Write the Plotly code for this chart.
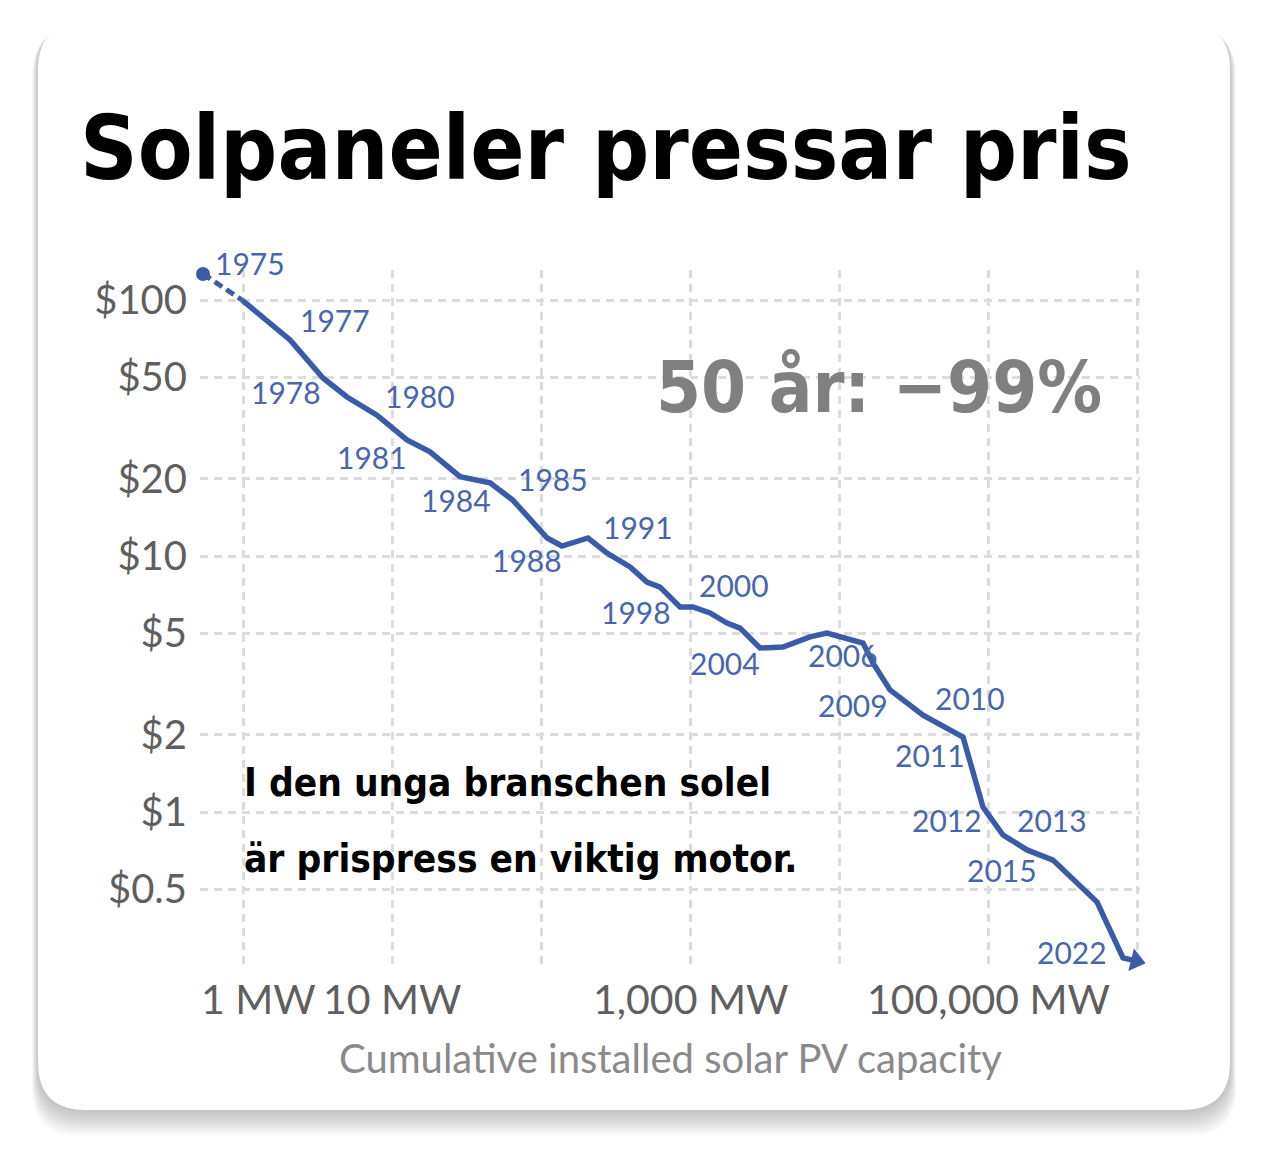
import math
import plotly.graph_objects as go

# cumulative installed capacity (MW) and module price ($/W)
cap_mw = [0.539, 0.985, 2.07, 3.44, 4.99, 7.93, 12.6, 18.0, 28.6, 45.5,
          64.9, 110, 138, 207, 277, 396, 514, 629, 857, 1047,
          1362, 1771, 2167, 2950, 4209, 6387, 8305, 14490, 16900, 21990,
          36640, 67970, 92530, 126100, 182700, 273000, 539500, 805400, 984000]
price = [126.4, 100, 69.8, 49.6, 41.8, 35.5, 28.4, 25.5, 20.4, 19.3,
         16.5, 11.76, 10.94, 11.76, 10.27, 9.06, 7.91, 7.56, 6.32, 6.32,
         5.99, 5.47, 5.23, 4.37, 4.41, 4.83, 5.00, 4.57, 3.82, 3.00,
         2.39, 1.963, 1.046, 0.813, 0.711, 0.649, 0.445, 0.269, 0.262]
year_label = ["1975", "", "1977", "1978", "", "1980", "1981", "", "", "1984",
              "1985", "", "1988", "", "1991", "", "", "", "1998", "2000",
              "", "", "", "2004", "", "", "", "2006", "", "2009",
              "2010", "2011", "2012", "2013", "2015", "", "", "", "2022"]

y_ticks = [0.5, 1, 2, 5, 10, 20, 50, 100]
y_tick_text = ["$0.5", "$1", "$2", "$5", "$10", "$20", "$50", "$100"]
x_ticks = [1, 10, 1000, 100000]
x_tick_text = ["1 MW", "10 MW", "1,000 MW", "100,000 MW"]

title = "Solpaneler pressar pris"
headline = "50 år: −99%"
note = ["I den unga branschen solel", "är prispress en viktig motor."]
x_title = "Cumulative installed solar PV capacity"

# page is drawn 8px in from the window corner
OFF = 8
W, H = 1264 - OFF, 1158 - OFF
L, R, T, B = 200, 1140, 270, 965   # plot area, window pixels
BLUE = "#3a5ba8"
LABEL_BLUE = "#4866ad"
COND = "DejaVu Sans Condensed, DejaVu Sans, sans-serif"


def px_x(px):
    return (px - L) / (R - L)


def px_y(py):
    return (B - py) / (B - T)


def rrect(x0, y0, x1, y1, r):
    X, Y = px_x, px_y
    return (f"M {X(x0 + r)},{Y(y0)} L {X(x1 - r)},{Y(y0)} "
            f"Q {X(x1)},{Y(y0)} {X(x1)},{Y(y0 + r)} L {X(x1)},{Y(y1 - r)} "
            f"Q {X(x1)},{Y(y1)} {X(x1 - r)},{Y(y1)} L {X(x0 + r)},{Y(y1)} "
            f"Q {X(x0)},{Y(y1)} {X(x0)},{Y(y1 - r)} L {X(x0)},{Y(y0 + r)} "
            f"Q {X(x0)},{Y(y0)} {X(x0 + r)},{Y(y0)} Z")


def base_y(baseline, size, descent=0.236):
    # paper y of an annotation bottom so that the text sits on this baseline
    return px_y(baseline + descent * size + 1)


# label offsets in pixels (right, up) from their point
label_off = {
    "1975": (47, 11), "1977": (45, 20), "1978": (-37, -14), "1980": (43, 19),
    "1981": (-35, -17), "1984": (-34, -17), "1985": (40, 21), "1988": (-35, -14),
    "1991": (31, 26), "1998": (-44, -5), "2000": (41, 22), "2004": (-35, -15),
    "2006": (-20, -12), "2009": (-37, -15), "2010": (47, 17), "2011": (-33, -18),
    "2012": (-36, -13), "2013": (49, 15), "2015": (-25, -20), "2022": (-64, 9),
}

fig = go.Figure()

# first stretch dashed, with start dot
fig.add_trace(go.Scatter(x=cap_mw[:2], y=price[:2], mode="lines",
                         line=dict(color=BLUE, width=5, dash="9px,5px"),
                         hoverinfo="skip", showlegend=False))
fig.add_trace(go.Scatter(x=cap_mw[:1], y=price[:1], mode="markers",
                         marker=dict(color=BLUE, size=14),
                         cliponaxis=False, showlegend=False))
fig.add_trace(go.Scatter(x=cap_mw[1:], y=price[1:], mode="lines",
                         line=dict(color=BLUE, width=5.5),
                         showlegend=False))
# arrow head at the last point
fig.add_trace(go.Scatter(x=cap_mw[-1:], y=price[-1:], mode="markers",
                         marker=dict(color=BLUE, size=20, symbol="triangle-right",
                                     angle=14, line=dict(width=0)),
                         cliponaxis=False, showlegend=False))

shapes = []
for i in range(1, 11):
    shapes.append(dict(type="path", xref="paper", yref="paper", layer="below",
                       path=rrect(38 - i * 0.6, 22 + i * 0.6, 1230 + i * 0.6, 1110 + i * 2.6, 48),
                       fillcolor="rgba(0,0,0,0.022)", line=dict(width=0)))
shapes.append(dict(type="path", xref="paper", yref="paper", layer="below",
                   path=rrect(38, 22, 1230, 1110, 48),
                   fillcolor="white", line=dict(width=0)))

ann = []
for cx, py, lab in zip(cap_mw, price, year_label):
    if not lab:
        continue
    dx, dy = label_off[lab]
    ann.append(dict(x=math.log10(cx), y=math.log10(py), xref="x", yref="y",
                    text=lab, showarrow=False, xanchor="center", yanchor="middle",
                    xshift=dx, yshift=dy,
                    font=dict(family="Lato", size=30, color=LABEL_BLUE)))

for v, t in zip(x_ticks, x_tick_text):
    ann.append(dict(x=math.log10(v), y=base_y(1016, 41, 0.2), xref="x", yref="paper",
                    text=t, showarrow=False, xanchor="center", yanchor="bottom",
                    xshift=15 if v == 1 else 0,
                    font=dict(family="Lato", size=41, color="#5f5f5f")))

ann.append(dict(x=px_x(670), y=base_y(1075, 40, 0.2), xref="paper", yref="paper",
                text=x_title, showarrow=False, xanchor="center", yanchor="bottom",
                font=dict(family="Lato", size=40, color="#8a8a8a")))

ann.append(dict(x=px_x(78), y=base_y(180, 89), xref="paper", yref="paper",
                text=f"<b>{title}</b>", showarrow=False, xanchor="left", yanchor="bottom",
                font=dict(family=COND, size=89, color="black")))
ann.append(dict(x=px_x(1104), y=base_y(413, 72), xref="paper", yref="paper",
                text=f"<b>{headline}</b>", showarrow=False, xanchor="right", yanchor="bottom",
                font=dict(family=COND, size=72, color="#808080")))
for line, bl in zip(note, [797, 873]):
    ann.append(dict(x=px_x(242), y=base_y(bl, 38.5), xref="paper", yref="paper",
                    text=f"<b>{line}</b>", showarrow=False, xanchor="left", yanchor="bottom",
                    font=dict(family=COND, size=38.5, color="black")))

fig.update_layout(
    width=W, height=H,
    margin=dict(l=L - OFF, r=W - (R - OFF), t=T - OFF, b=H - (B - OFF)),
    paper_bgcolor="white", plot_bgcolor="rgba(0,0,0,0)",
    shapes=shapes, annotations=ann,
    xaxis=dict(type="log", range=[(L - 243) / 149, (R - 243) / 149],
               tickvals=[1, 10, 100, 1000, 1e4, 1e5, 1e6], showticklabels=False,
               showgrid=True, gridcolor="#dcdcdc", gridwidth=3, griddash="8px,6px",
               zeroline=False, showline=False, ticks=""),
    yaxis=dict(type="log", range=[2 - (B - 300) / 256, 2 + (300 - T) / 256],
               tickvals=y_ticks, ticktext=y_tick_text,
               tickfont=dict(family="Lato", size=40, color="#5f5f5f"),
               ticklabelstandoff=12,
               showgrid=True, gridcolor="#dcdcdc", gridwidth=3, griddash="8px,6px",
               zeroline=False, showline=False, ticks=""),
)

fig.write_html("out.html")
